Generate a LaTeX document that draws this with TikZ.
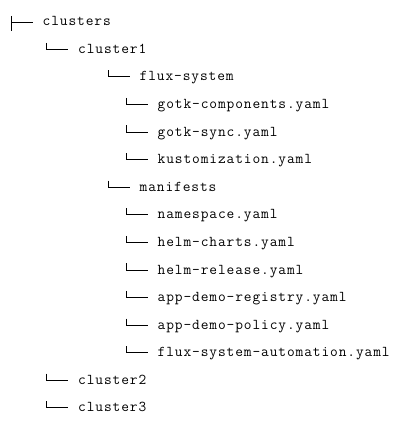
\documentclass[tikz,border=0pt]{standalone}
\usepackage{fontspec}
\setmonofont{Latin Modern Mono}[LetterSpace=6]
\usetikzlibrary{positioning}

\tikzset{
	entry/.style={anchor=base west, inner sep=0pt, font=\ttfamily\fontsize{15}{16}\selectfont},
	branch/.style={line width=1pt, black},
}
% elbow glyph in front of a node
\newcommand{\elbow}[1]{%
	\draw[branch] ([shift={(-31.5pt,10.7pt)}]#1.base west) |- ([shift={(-10pt,4pt)}]#1.base west);}

\begin{document}
\begin{tikzpicture}[x=1pt, y=-1pt]
	\useasboundingbox (0,0) rectangle (408,435);

% tree entries
	\node[entry] (clusters)    at (42.5, 25.9)  {clusters};
	\node[entry] (cluster1)    at (78, 53.5)    {cluster1};
	\node[entry] (fluxsys)     at (139.5, 81.0) {flux-system};
	\node[entry] (gotkcomp)    at (157.5, 108.6) {gotk-components.yaml};
	\node[entry] (gotksync)    at (157.5, 136.2) {gotk-sync.yaml};
	\node[entry] (kustom)      at (157.5, 163.8) {kustomization.yaml};
	\node[entry] (manifests)   at (139.5, 191.3) {manifests};
	\node[entry] (namespace)   at (157.5, 218.9) {namespace.yaml};
	\node[entry] (helmcharts)  at (157.5, 246.5) {helm-charts.yaml};
	\node[entry] (helmrelease) at (157.5, 274.0) {helm-release.yaml};
	\node[entry] (registry)    at (157.5, 301.6) {app-demo-registry.yaml};
	\node[entry] (policy)      at (157.5, 329.2) {app-demo-policy.yaml};
	\node[entry] (automation)  at (157.5, 356.7) {flux-system-automation.yaml};
	\node[entry] (cluster2)    at (78, 384.3)   {cluster2};
	\node[entry] (cluster3)    at (78, 411.9)   {cluster3};

% tee for the root
	\draw[branch] ([shift={(-31pt,10pt)}]clusters.base west) -- ++(0,-15pt);
	\draw[branch] ([shift={(-31pt,3.7pt)}]clusters.base west) -- ([shift={(-10pt,3.7pt)}]clusters.base west);

% elbows
	\foreach \n in {cluster1, fluxsys, gotkcomp, gotksync, kustom, manifests,
		namespace, helmcharts, helmrelease, registry, policy, automation,
		cluster2, cluster3}
		{\elbow{\n}}

\end{tikzpicture}
\end{document}
